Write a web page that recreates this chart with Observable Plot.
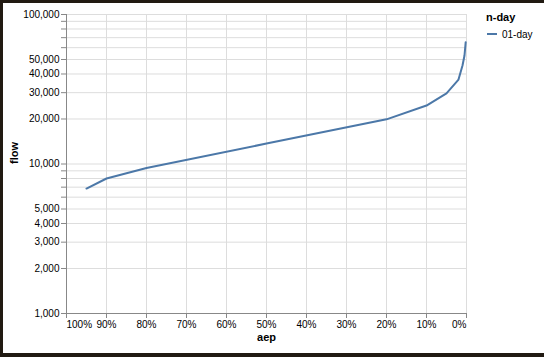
<!DOCTYPE html>
<html>
<head>
<meta charset="utf-8">
<script src="https://cdn.jsdelivr.net/npm/d3@7"></script>
<script src="https://cdn.jsdelivr.net/npm/@observablehq/plot@0.6"></script>
<style>
  html, body { margin: 0; padding: 0; background: #fff; }
  #wrap { position: relative; width: 544px; height: 357px; overflow: hidden; background: #fff; }
  #wrap svg { display: block; }
  .edge { position: absolute; background: #211a12; }
  #legend { position: absolute; left: 0; top: 0; }
</style>
</head>
<body>
<div id="wrap"></div>
<script>
// Data
const aep  = [95, 90, 80, 50, 20, 10, 5, 2, 1, 0.5, 0.2];
const flow = [6850, 8000, 9400, 13700, 19900, 24600, 29700, 36700, 45600, 53200, 65300];
const seriesName = "01-day";
const legendTitle = "n-day";

const xTicks = [100, 90, 80, 70, 60, 50, 40, 30, 20, 10, 0];
const xInner = [90, 80, 70, 60, 50, 40, 30, 20, 10];
const yLabeled = [1000, 2000, 3000, 4000, 5000, 10000, 20000, 30000, 40000, 50000, 100000];
const yMinor = [6000, 7000, 8000, 9000, 60000, 70000, 80000, 90000];
const yAll = yLabeled.concat(yMinor);

const data = aep.map((a, i) => ({aep: a, flow: flow[i], series: seriesName}));

const font = "'Liberation Sans', Arial, Helvetica, sans-serif";
const axisCommon = {tickSize: 5, tickPadding: 2, stroke: "#888", fill: "#000", label: null};
const fmt = d3.format(",");

const chart = Plot.plot({
  width: 544,
  height: 357,
  marginLeft: 66,
  marginRight: 78,
  marginTop: 14,
  marginBottom: 44,
  style: {fontFamily: font, fontSize: "10px", background: "#fff", color: "#000"},
  x: {domain: [100, 0], label: null},
  y: {type: "log", domain: [1000, 100000], label: null},
  marks: [
    Plot.gridX(xTicks, {stroke: "#ddd", strokeOpacity: 1}),
    Plot.gridY(yAll, {stroke: "#ddd", strokeOpacity: 1}),
    Plot.axisX(xInner, {...axisCommon, tickFormat: d => d + "%"}),
    Plot.axisX([100], {...axisCommon, tickFormat: d => d + "%", textAnchor: "start"}),
    Plot.axisX([0], {...axisCommon, tickFormat: d => d + "%", textAnchor: "end"}),
    Plot.axisY({...axisCommon, ticks: yAll, tickFormat: () => ""}),
    Plot.text(yLabeled, {y: d => d, text: d => fmt(d), frameAnchor: "left", dx: -7, textAnchor: "end", fill: "#000"}),
    Plot.ruleX([100], {stroke: "#888"}),
    Plot.ruleY([1000], {stroke: "#888"}),
    Plot.line(data, {x: "aep", y: "flow", stroke: "#4c78a8", strokeWidth: 2}),
    Plot.text(["flow"], {frameAnchor: "left", dx: -52, rotate: -90, fontWeight: "bold", fontSize: 11, fill: "#000"}),
    Plot.text(["aep"], {frameAnchor: "bottom", dy: 27, fontWeight: "bold", fontSize: 11, fill: "#000"})
  ]
});

const wrap = document.getElementById("wrap");
wrap.appendChild(chart);

// Legend (drawn beside the plot)
const ns = "http://www.w3.org/2000/svg";
const leg = document.createElementNS(ns, "svg");
leg.setAttribute("id", "legend");
leg.setAttribute("width", 544);
leg.setAttribute("height", 357);
leg.style.fontFamily = font;
const t1 = document.createElementNS(ns, "text");
t1.setAttribute("x", 486); t1.setAttribute("y", 21);
t1.setAttribute("font-size", 11); t1.setAttribute("font-weight", "bold");
t1.textContent = legendTitle;
leg.appendChild(t1);
const ln = document.createElementNS(ns, "line");
ln.setAttribute("x1", 487); ln.setAttribute("x2", 497);
ln.setAttribute("y1", 34); ln.setAttribute("y2", 34);
ln.setAttribute("stroke", "#4c78a8"); ln.setAttribute("stroke-width", 2);
leg.appendChild(ln);
const t2 = document.createElementNS(ns, "text");
t2.setAttribute("x", 502); t2.setAttribute("y", 37.5);
t2.setAttribute("font-size", 10);
t2.textContent = seriesName;
leg.appendChild(t2);
wrap.appendChild(leg);

// dark screenshot border
[["0px","0px","544px","3px"],["0px","0px","3px","357px"],["0px","353px","544px","4px"]].forEach(([l,t,w,h]) => {
  const d = document.createElement("div");
  d.className = "edge";
  d.style.left = l; d.style.top = t; d.style.width = w; d.style.height = h;
  wrap.appendChild(d);
});
</script>
</body>
</html>
